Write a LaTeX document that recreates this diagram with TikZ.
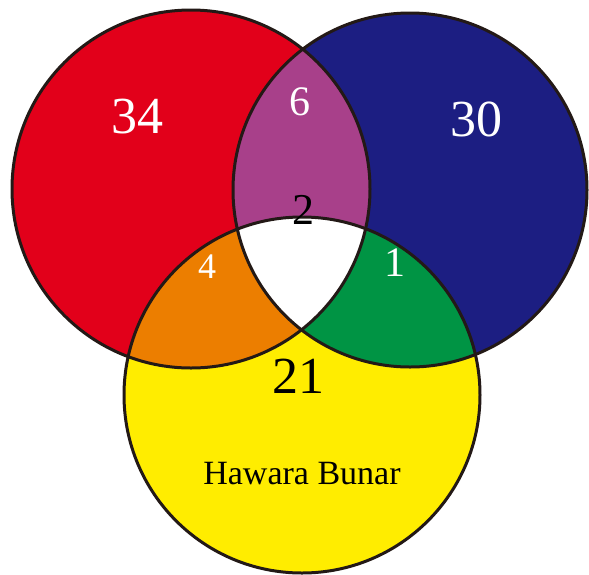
\documentclass[tikz,border=0pt]{standalone}
\usepackage{fontspec}
\setmainfont{Liberation Serif}
\usepackage{xcolor}

\definecolor{vred}{RGB}{226,0,26}
\definecolor{vblue}{RGB}{28,30,130}
\definecolor{vyellow}{RGB}{255,237,0}
\definecolor{vpurple}{RGB}{168,64,138}
\definecolor{vorange}{RGB}{236,126,0}
\definecolor{vgreen}{RGB}{0,148,68}
\definecolor{vline}{RGB}{35,25,22}

\begin{document}
\begin{tikzpicture}[x=1pt,y=-1pt,
  rim/.style={draw=vline,line width=3pt},
  big/.style={font=\fontsize{52}{52}\selectfont},
  mid/.style={font=\fontsize{42}{42}\selectfont},
  small/.style={font=\fontsize{36}{36}\selectfont}]
\useasboundingbox (0,0) rectangle (589,574);
\fill[white] (0,0) rectangle (589,574);
\def\redc{(191,189) circle (179)}
\def\bluec{(410,190) circle (177)}
\def\yelc{(302,395) circle (178)}
\fill[vred] \redc;
\fill[vblue] \bluec;
\fill[vyellow] \yelc;
\begin{scope}
\clip \redc;
\fill[vpurple] \bluec;
\fill[vorange] \yelc;
\end{scope}
\begin{scope}
\clip \bluec;
\fill[vgreen] \yelc;
\end{scope}
\begin{scope}
\clip \redc;
\clip \bluec;
\fill[white] \yelc;
\end{scope}
\draw[rim] \redc;
\draw[rim] \bluec;
\draw[rim] \yelc;
\node[big,text=white] (nred) at (137,117) {34};
\node[big,text=white] (nblue) at (476,119) {30};
\node[mid,text=white] (nrb) at (300,102) {6};
\node[font=\fontsize{44}{44}\selectfont] (nall) at (303,210) {2};
\node[small,text=white] (nry) at (207,267) {4};
\node[mid,text=white] (nby) at (395,263) {1};
\node[big] (nyel) at (298,376) {21};
\node[font=\fontsize{34}{34}\selectfont] (name) at (302,474) {Hawara Bunar};
\end{tikzpicture}
\end{document}
